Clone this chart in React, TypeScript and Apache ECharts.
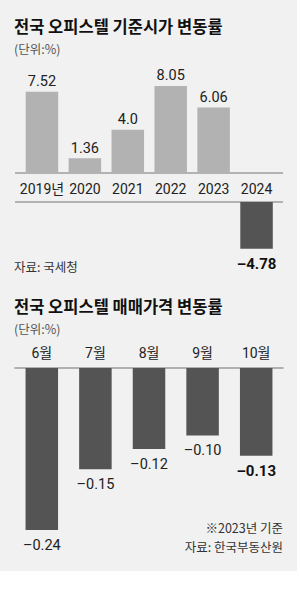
import React, { useEffect, useRef } from "react";
import * as echarts from "echarts";

const FONT = "Roboto, 'Noto Sans CJK KR', sans-serif";
const KFONT = "'Noto Sans CJK KR', sans-serif";

// Chart 1: 전국 오피스텔 기준시가 변동률
const title1 = "전국 오피스텔 기준시가 변동률";
const years = ["2019년", "2020", "2021", "2022", "2023", "2024"];
const yearValues = [7.52, 1.36, 4.0, 8.05, 6.06, -4.78];
const source1 = "자료: 국세청";

// Chart 2: 전국 오피스텔 매매가격 변동률
const title2 = "전국 오피스텔 매매가격 변동률";
const months = ["6월", "7월", "8월", "9월", "10월"];
const monthValues = [-0.24, -0.15, -0.12, -0.1, -0.13];
const note2 = "※2023년 기준";
const source2 = "자료: 한국부동산원";
const unitText = "(단위:%)";

const LIGHT = "#b2b2b2";
const DARK = "#545454";
const BG = "#f1f1f1";
const RULE = "#9c9c9c";

function fmt(v: number): string {
  const s = Number.isInteger(v) ? v.toFixed(1) : v.toFixed(2);
  return s.replace("-", "\u2013");
}

function txt(x: number, y: number, text: string, size: number, color: string, opts: any = {}) {
  return {
    type: "text",
    x,
    y,
    style: {
      text,
      fontSize: size,
      fontFamily: KFONT,
      fontWeight: opts.bold ? "bold" : "normal",
      fill: color,
      align: opts.align || "left",
      verticalAlign: "middle",
    },
  };
}

export default function App() {
  const ref = useRef<HTMLDivElement>(null);
  useEffect(() => {
    document.body.style.margin = "0";
    if (!ref.current) return;
    const chart = echarts.init(ref.current, null, { renderer: "svg" });
    const lastMonth = months.length - 1;
    const pos = yearValues.map((v) => (v >= 0 ? v : null));
    const neg = yearValues.map((v) => (v < 0 ? v : null));

    chart.setOption({
      animation: false,
      backgroundColor: "#ffffff",
      grid: [
        { left: 20.5, width: 257.5, top: 65, height: 108 },
        { left: 20.5, width: 257.5, top: 202, height: 49 },
        { left: 15, width: 268, top: 368, height: 168.75 },
      ],
      xAxis: [
        {
          gridIndex: 0,
          type: "category",
          data: years,
          axisLine: { show: false },
          axisTick: { show: false },
          axisLabel: { interval: 0, margin: 9, fontSize: 14, color: "#222", fontFamily: FONT },
        },
        {
          gridIndex: 1,
          type: "category",
          data: years,
          show: false,
        },
        {
          gridIndex: 2,
          type: "category",
          data: months,
          position: "top",
          axisLine: { show: true, onZero: false, lineStyle: { color: RULE, width: 1.5 } },
          axisTick: { show: false },
          axisLabel: { interval: 0, margin: 8, fontSize: 14, color: "#222", fontFamily: FONT },
        },
      ],
      yAxis: [
        { gridIndex: 0, type: "value", min: 0, max: 10, show: false },
        { gridIndex: 1, type: "value", min: -5, max: 0, show: false },
        { gridIndex: 2, type: "value", min: -0.25, max: 0, show: false },
      ],
      series: [
        {
          type: "bar",
          xAxisIndex: 0,
          yAxisIndex: 0,
          data: pos,
          barWidth: 32.5,
          itemStyle: { color: LIGHT },
          label: {
            show: true,
            position: "top",
            distance: 3,
            fontSize: 14.5,
            color: "#222",
            fontFamily: FONT,
            formatter: (p: any) => fmt(p.value),
          },
        },
        {
          type: "bar",
          xAxisIndex: 1,
          yAxisIndex: 1,
          data: neg,
          barWidth: 32.5,
          itemStyle: { color: DARK },
          label: {
            show: true,
            position: "bottom",
            distance: 8,
            fontSize: 15,
            fontWeight: "bold",
            color: "#111",
            fontFamily: FONT,
            formatter: (p: any) => fmt(p.value),
          },
        },
        {
          type: "bar",
          xAxisIndex: 2,
          yAxisIndex: 2,
          data: monthValues.map((v, i) =>
            i === lastMonth
              ? { value: v, label: { fontWeight: "bold", fontSize: 15, color: "#111" } }
              : v
          ),
          barWidth: 32.5,
          itemStyle: { color: DARK },
          label: {
            show: true,
            position: "bottom",
            distance: 8,
            fontSize: 14.5,
            color: "#222",
            fontFamily: FONT,
            formatter: (p: any) => fmt(p.value),
          },
        },
      ],
      graphic: [
        { type: "rect", z: -10, silent: true, shape: { x: 0, y: 0, width: 297, height: 571 }, style: { fill: BG } },
        { type: "line", shape: { x1: 15, y1: 173, x2: 283, y2: 173 }, style: { stroke: RULE, lineWidth: 1.5 } },
        { type: "line", shape: { x1: 15, y1: 202, x2: 283, y2: 202 }, style: { stroke: RULE, lineWidth: 1.5 } },
        txt(14, 26, title1, 16.5, "#111", { bold: true }),
        txt(14, 48, unitText, 12.5, "#555"),
        txt(14, 266, source1, 12.5, "#333"),
        txt(14, 306, title2, 16.5, "#111", { bold: true }),
        txt(14, 328, unitText, 12.5, "#555"),
        txt(283, 527, note2, 12.5, "#333", { align: "right" }),
        txt(283, 546, source2, 12.5, "#333", { align: "right" }),
      ],
    });
    return () => chart.dispose();
  }, []);
  return <div ref={ref} style={{ width: 300, height: 599 }} />;
}
